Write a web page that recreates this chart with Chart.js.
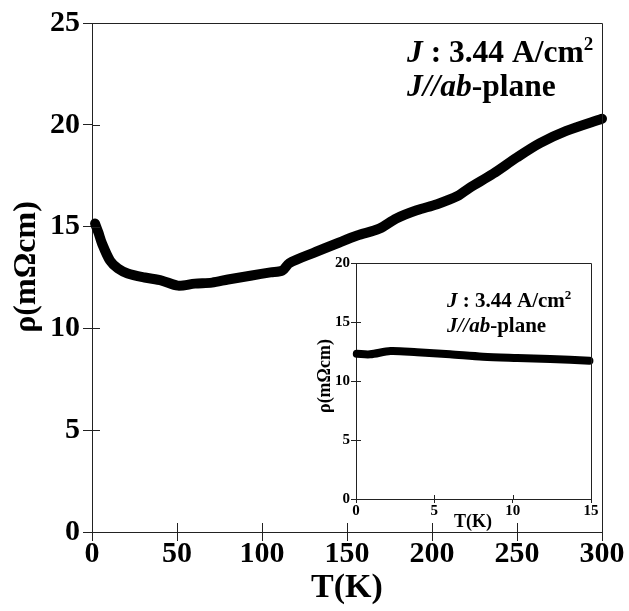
<!DOCTYPE html>
<html>
<head>
<meta charset="utf-8">
<script src="https://cdn.jsdelivr.net/npm/chart.js@4"></script>
<style>
  body { margin: 0; background: #fff; }
  #wrap { position: relative; width: 629px; height: 611px; }
  #wrap canvas { position: absolute; left: 0; top: 0; }
</style>
</head>
<body>
<div id="wrap">
  <canvas id="mainChart" width="629" height="611"></canvas>
  <canvas id="insetChart" width="629" height="611"></canvas>
</div>
<script>
// main curve
const mainTemp = [1.8, 3.8, 5.9, 10.6, 15.3, 21, 31, 41, 50.5, 60.5, 70.6, 80, 94, 105, 112, 116, 130, 144, 156, 169, 179, 191, 203, 215, 222, 236, 250, 263.5, 279, 300];
const mainRho  = [15.15, 14.7, 14.17, 13.33, 12.94, 12.7, 12.5, 12.35, 12.1, 12.2, 12.25, 12.4, 12.6, 12.75, 12.84, 13.2, 13.7, 14.17, 14.56, 14.9, 15.4, 15.8, 16.1, 16.5, 16.9, 17.6, 18.4, 19.1, 19.7, 20.3];

// inset (low temperature)
const insetTemp = [0.05, 0.9, 2.2, 3.9, 6.0, 8.1, 10.3, 12.4, 14.9];
const insetRho  = [12.3, 12.26, 12.54, 12.43, 12.26, 12.06, 11.95, 11.86, 11.72];

const mainXTicks = [0, 50, 100, 150, 200, 250, 300];
const mainYTicks = [0, 5, 10, 15, 20, 25];
const insetXTicks = [0, 5, 10, 15];
const insetYTicks = [0, 5, 10, 15, 20];

const serif = '"Liberation Serif", "Times New Roman", serif';
const ink = '#222';

// frame (top/right), inward tick halves and all free text
const extras = {
    id: 'extras',
    afterDraw(chart, args, opts) {
        const ctx = chart.ctx;
        const a = chart.chartArea;
        ctx.save();
        ctx.strokeStyle = ink;
        ctx.lineWidth = 1;
        ctx.beginPath();
        ctx.moveTo(Math.round(a.left) + 0.5, Math.round(a.top) + 0.5);
        ctx.lineTo(Math.round(a.right) + 0.5, Math.round(a.top) + 0.5);
        ctx.lineTo(Math.round(a.right) + 0.5, Math.round(a.bottom) + 0.5);
        // inner tick parts
        const xs = chart.scales.x, ys = chart.scales.y;
        xs.ticks.forEach(t => {
            const px = Math.round(xs.getPixelForValue(t.value)) + 0.5;
            ctx.moveTo(px, a.bottom);
            ctx.lineTo(px, a.bottom - opts.inX);
        });
        ys.ticks.forEach(t => {
            const py = Math.round(ys.getPixelForValue(t.value)) + 0.5;
            ctx.moveTo(a.left, py);
            ctx.lineTo(a.left + opts.inY, py);
        });
        ctx.stroke();

        ctx.fillStyle = '#000';
        (opts.texts || []).forEach(tx => drawRich(ctx, tx));
        ctx.restore();
    }
};

function fontFor(part, size) {
    const s = part.sup ? Math.round(size * 0.6) : size;
    return (part.it ? 'italic ' : '') + 'bold ' + s + 'px ' + serif;
}

function drawRich(ctx, tx) {
    ctx.save();
    ctx.translate(tx.x, tx.y);
    if (tx.rot) ctx.rotate(tx.rot);
    ctx.textBaseline = tx.baseline || 'alphabetic';
    ctx.textAlign = 'left';
    let total = 0;
    tx.parts.forEach(p => { ctx.font = fontFor(p, tx.size); total += ctx.measureText(p.t).width; });
    let x = tx.align === 'center' ? -total / 2 : 0;
    tx.parts.forEach(p => {
        ctx.font = fontFor(p, tx.size);
        ctx.fillText(p.t, x, p.sup ? -tx.size * 0.38 : 0);
        x += ctx.measureText(p.t).width;
    });
    ctx.restore();
}

function axis(min, max, tickList, fontSize, tickLen, pad, fitSize, horizontal) {
    return {
        type: 'linear',
        min: min,
        max: max,
        afterBuildTicks: s => { s.ticks = tickList.map(v => ({ value: v })); },
        afterFit: s => { if (horizontal) s.height = fitSize; else s.width = fitSize; },
        grid: { display: true, drawOnChartArea: false, drawTicks: true, tickLength: tickLen, color: ink, lineWidth: 1 },
        border: { display: true, color: ink, width: 1 },
        ticks: {
            color: '#000',
            padding: pad,
            maxRotation: 0,
            autoSkip: false,
            font: { family: serif, size: fontSize, weight: 'bold' }
        }
    };
}

new Chart(document.getElementById('mainChart'), {
    type: 'scatter',
    data: {
        datasets: [{
            data: mainTemp.map((t, i) => ({ x: t, y: mainRho[i] })),
            showLine: true,
            borderColor: '#000',
            borderWidth: 10,
            borderCapStyle: 'round',
            borderJoinStyle: 'round',
            tension: 0.3,
            pointRadius: 0,
            clip: false
        }]
    },
    options: {
        responsive: false,
        animation: false,
        layout: { padding: { left: 0, top: 23, right: 27, bottom: 0 } },
        scales: {
            x: axis(0, 300, mainXTicks, 30, 9, -5, 79, true),
            y: axis(0, 25, mainYTicks, 30, 9, 3, 92, false)
        },
        plugins: {
            legend: { display: false },
            tooltip: { enabled: false },
            extras: {
                inX: 9, inY: 8,
                texts: [
                    { x: 27, y: 267, rot: -Math.PI / 2, size: 32, align: 'center', baseline: 'middle', parts: [{ t: 'ρ(mΩcm)' }] },
                    { x: 347, y: 588, size: 34, align: 'center', baseline: 'middle', parts: [{ t: 'T(K)' }] },
                    { x: 407, y: 62, size: 31.5, parts: [{ t: 'J', it: true }, { t: ' : 3.44 A/cm' }, { t: '2', sup: true }] },
                    { x: 407, y: 96, size: 31.5, parts: [{ t: 'J//ab', it: true }, { t: '-plane' }] }
                ]
            }
        }
    },
    plugins: [extras]
});

new Chart(document.getElementById('insetChart'), {
    type: 'scatter',
    data: {
        datasets: [{
            data: insetTemp.map((t, i) => ({ x: t, y: insetRho[i] })),
            showLine: true,
            borderColor: '#000',
            borderWidth: 8,
            borderCapStyle: 'round',
            borderJoinStyle: 'round',
            tension: 0.3,
            pointRadius: 0,
            clip: false
        }]
    },
    options: {
        responsive: false,
        animation: false,
        layout: { padding: { left: 300, top: 263, right: 38, bottom: 71 } },
        scales: {
            x: axis(0, 15, insetXTicks, 15, 4, -1, 41, true),
            y: axis(0, 20, insetYTicks, 15, 5, 1, 56, false)
        },
        plugins: {
            legend: { display: false },
            tooltip: { enabled: false },
            extras: {
                inX: 4, inY: 5,
                texts: [
                    { x: 325, y: 376, rot: -Math.PI / 2, size: 18, align: 'center', baseline: 'middle', parts: [{ t: 'ρ(mΩcm)' }] },
                    { x: 473, y: 522, size: 18, align: 'center', baseline: 'middle', parts: [{ t: 'T(K)' }] },
                    { x: 447, y: 307, size: 21, parts: [{ t: 'J', it: true }, { t: ' : 3.44 A/cm' }, { t: '2', sup: true }] },
                    { x: 447, y: 332, size: 21, parts: [{ t: 'J//ab', it: true }, { t: '-plane' }] }
                ]
            }
        }
    },
    plugins: [extras]
});
</script>
</body>
</html>
